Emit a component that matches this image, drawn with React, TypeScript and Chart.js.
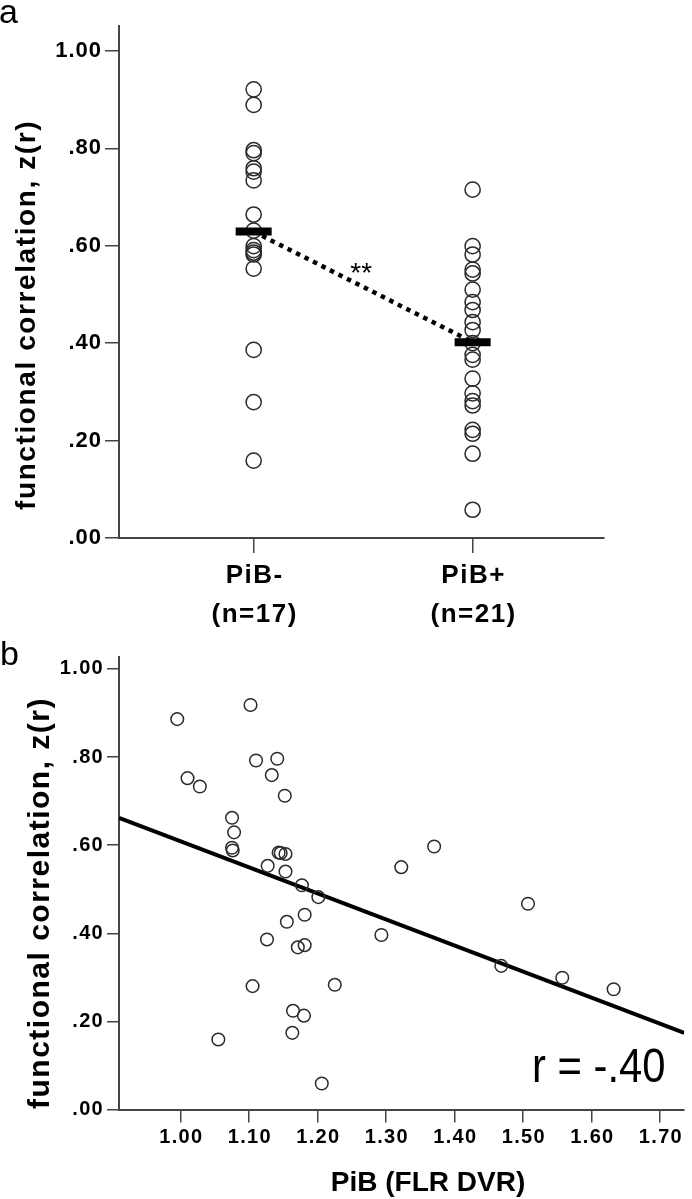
import React, { useEffect, useRef } from 'react';
import { Chart, registerables } from 'chart.js';

Chart.register(...registerables);

const FONT = '"Liberation Sans", Arial, Helvetica, sans-serif';

// ---------- Panel a ----------
const groupLabels = ['PiB-', 'PiB+'];
const groupCounts = [17, 21];
const groupPos = [1, 2];
const pibNegZ = [0.921, 0.889, 0.796, 0.79, 0.759, 0.752, 0.734, 0.664, 0.631, 0.599, 0.591, 0.586, 0.582, 0.553, 0.386, 0.279, 0.159];
const pibPosZ = [0.715, 0.599, 0.582, 0.551, 0.543, 0.51, 0.484, 0.468, 0.443, 0.427, 0.4, 0.376, 0.366, 0.327, 0.297, 0.281, 0.272, 0.222, 0.214, 0.173, 0.058];
const groupMeans = [0.629, 0.402];
const sigLabel = '**';

const yTickValues = [0, 0.2, 0.4, 0.6, 0.8, 1.0];
const yTickLabels = ['.00', '.20', '.40', '.60', '.80', '1.00'];
const yTitle = 'functional correlation, z(r)';

// ---------- Panel b ----------
const pibDvr = [0.995, 1.102, 1.01, 1.028, 1.11, 1.141, 1.133, 1.152, 1.075, 1.078, 1.075, 1.076, 1.143, 1.146, 1.153, 1.127, 1.153, 1.177, 1.201, 1.181, 1.155, 1.126, 1.171, 1.181, 1.37, 1.322, 1.293, 1.468, 1.507, 1.105, 1.225, 1.164, 1.18, 1.163, 1.055, 1.206, 1.557, 1.632];
const fcZ = [0.886, 0.918, 0.752, 0.733, 0.792, 0.796, 0.759, 0.712, 0.662, 0.629, 0.594, 0.588, 0.583, 0.582, 0.58, 0.553, 0.54, 0.509, 0.482, 0.442, 0.426, 0.386, 0.368, 0.373, 0.597, 0.55, 0.396, 0.326, 0.467, 0.28, 0.283, 0.224, 0.213, 0.174, 0.159, 0.059, 0.299, 0.273];
const fitX = [0.91, 1.735];
const fitY = [0.662, 0.174];
const xTickValues = [1.0, 1.1, 1.2, 1.3, 1.4, 1.5, 1.6, 1.7];
const xTickLabels = ['1.00', '1.10', '1.20', '1.30', '1.40', '1.50', '1.60', '1.70'];
const xTitleB = 'PiB (FLR DVR)';
const rLabel = 'r = -.40';

const W = 692;
const H_A = 634;
const H_B = 565;
const AXIS = '#444';

type TOpts = { align?: CanvasTextAlign; baseline?: CanvasTextBaseline; ls?: number; rotate?: number; scaleX?: number; color?: string };
function drawText(ctx: CanvasRenderingContext2D, text: string, x: number, y: number, font: string, o: TOpts = {}) {
  ctx.save();
  ctx.font = font;
  (ctx as any).letterSpacing = (o.ls || 0) + 'px';
  ctx.fillStyle = o.color || '#000';
  ctx.textAlign = o.align || 'left';
  ctx.textBaseline = o.baseline || 'alphabetic';
  ctx.translate(x, y);
  if (o.rotate) ctx.rotate(o.rotate);
  if (o.scaleX) ctx.scale(o.scaleX, 1);
  ctx.fillText(text, 0, 0);
  ctx.restore();
}

const gridOpts = (len: number) => ({ display: true, drawOnChartArea: false, drawTicks: true, tickLength: len, color: AXIS, lineWidth: 1.5 });

export default function App() {
  const refA = useRef<HTMLCanvasElement>(null);
  const refB = useRef<HTMLCanvasElement>(null);

  useEffect(() => {
    const textA = {
      id: 'textA',
      afterDraw(chart: any) {
        const ctx = chart.ctx as CanvasRenderingContext2D;
        const xs = chart.scales.x;
        const ys = chart.scales.y;
        drawText(ctx, 'a', -1, 23, `34px ${FONT}`);
        drawText(ctx, yTitle, 35, 510, `bold 28px ${FONT}`, { rotate: -Math.PI / 2, ls: 1.6 });
        yTickValues.forEach((v, i) => {
          drawText(ctx, yTickLabels[i], 102, ys.getPixelForValue(v), `bold 22px ${FONT}`, { align: 'right', baseline: 'middle', ls: 1 });
        });
        groupPos.forEach((p, i) => {
          const px = xs.getPixelForValue(p) + 1;
          drawText(ctx, groupLabels[i], px, 583, `bold 26px ${FONT}`, { align: 'center', ls: 1.5 });
          drawText(ctx, `(n=${groupCounts[i]})`, px, 622, `bold 26px ${FONT}`, { align: 'center', ls: 1.5 });
        });
        const midX = xs.getPixelForValue((groupPos[0] + groupPos[1]) / 2);
        const midY = ys.getPixelForValue((groupMeans[0] + groupMeans[1]) / 2);
        drawText(ctx, sigLabel, midX - 2, midY - 4.5, `28px ${FONT}`, { align: 'center' });
      },
    };

    const chartA = new Chart(refA.current!, {
      type: 'scatter',
      data: {
        datasets: [
          {
            type: 'line',
            data: groupPos.map((x, i) => ({ x, y: groupMeans[i] })),
            borderColor: '#000',
            borderWidth: 4.5,
            borderDash: [4.5, 5],
            pointRadius: 0,
            fill: false,
            order: 3,
          } as any,
          {
            data: pibNegZ.map((y) => ({ x: groupPos[0], y })),
            pointRadius: 7.6,
            pointBorderWidth: 1.5,
            borderColor: '#2a2a2a',
            pointBorderColor: '#2a2a2a',
            backgroundColor: 'rgba(0,0,0,0)',
            pointBackgroundColor: 'rgba(0,0,0,0)',
            order: 2,
          },
          {
            data: pibPosZ.map((y) => ({ x: groupPos[1], y })),
            pointRadius: 7.6,
            pointBorderWidth: 1.5,
            borderColor: '#2a2a2a',
            pointBorderColor: '#2a2a2a',
            backgroundColor: 'rgba(0,0,0,0)',
            pointBackgroundColor: 'rgba(0,0,0,0)',
            order: 2,
          },
          {
            data: groupPos.map((x, i) => ({ x, y: groupMeans[i] })),
            pointStyle: 'line',
            pointRadius: 18,
            pointBorderWidth: 8,
            borderColor: '#000',
            pointBorderColor: '#000',
            order: 1,
          },
        ],
      },
      options: {
        responsive: false,
        maintainAspectRatio: false,
        animation: false,
        devicePixelRatio: 1,
        events: [],
        layout: { padding: { left: 0, right: 88, top: 3, bottom: 0 } },
        plugins: { legend: { display: false }, tooltip: { enabled: false } },
        scales: {
          x: {
            type: 'linear',
            min: 0.385,
            max: 2.6,
            afterBuildTicks: (s: any) => { s.ticks = groupPos.map((v) => ({ value: v })); },
            afterFit: (s: any) => { s.height = 96; },
            ticks: { display: false },
            grid: gridOpts(15),
            border: { display: true, color: AXIS, width: 2 },
          },
          y: {
            type: 'linear',
            min: 0,
            max: 1.051,
            afterBuildTicks: (s: any) => { s.ticks = yTickValues.map((v) => ({ value: v })); },
            afterFit: (s: any) => { s.width = 119; },
            ticks: { display: false },
            grid: gridOpts(14),
            border: { display: true, color: AXIS, width: 2 },
          },
        },
      } as any,
      plugins: [textA],
    });

    const textB = {
      id: 'textB',
      afterDraw(chart: any) {
        const ctx = chart.ctx as CanvasRenderingContext2D;
        const xs = chart.scales.x;
        const ys = chart.scales.y;
        drawText(ctx, 'b', 0, 31, `34px ${FONT}`);
        drawText(ctx, yTitle, 49, 475, `bold 30px ${FONT}`, { rotate: -Math.PI / 2, ls: 1.5 });
        yTickValues.forEach((v, i) => {
          drawText(ctx, yTickLabels[i], 104, ys.getPixelForValue(v), `bold 20px ${FONT}`, { align: 'right', baseline: 'middle', ls: 1.3 });
        });
        xTickValues.forEach((v, i) => {
          drawText(ctx, xTickLabels[i], xs.getPixelForValue(v) + 0.7, 509, `bold 20px ${FONT}`, { align: 'center', ls: 1.3 });
        });
        drawText(ctx, xTitleB, 428, 557, `bold 28px ${FONT}`, { align: 'center' });
        drawText(ctx, rLabel, 532, 448, `48px ${FONT}`, { scaleX: 0.87 });
      },
    };

    const chartB = new Chart(refB.current!, {
      type: 'scatter',
      data: {
        datasets: [
          {
            type: 'line',
            data: fitX.map((x, i) => ({ x, y: fitY[i] })),
            borderColor: '#000',
            borderWidth: 4,
            pointRadius: 0,
            fill: false,
            order: 2,
          } as any,
          {
            data: pibDvr.map((x, i) => ({ x, y: fcZ[i] })),
            pointRadius: 6.3,
            pointBorderWidth: 1.5,
            borderColor: '#2a2a2a',
            pointBorderColor: '#2a2a2a',
            backgroundColor: 'rgba(0,0,0,0)',
            pointBackgroundColor: 'rgba(0,0,0,0)',
            order: 1,
          },
        ],
      },
      options: {
        responsive: false,
        maintainAspectRatio: false,
        animation: false,
        devicePixelRatio: 1,
        events: [],
        layout: { padding: { left: 0, right: 0, top: 23, bottom: 0 } },
        plugins: { legend: { display: false }, tooltip: { enabled: false } },
        scales: {
          x: {
            type: 'linear',
            min: 0.91,
            max: 1.735,
            afterBuildTicks: (s: any) => { s.ticks = xTickValues.map((v) => ({ value: v })); },
            afterFit: (s: any) => { s.height = 89.5; },
            ticks: { display: false },
            grid: gridOpts(13),
            border: { display: true, color: AXIS, width: 2 },
          },
          y: {
            type: 'linear',
            min: 0,
            max: 1.027,
            afterBuildTicks: (s: any) => { s.ticks = yTickValues.map((v) => ({ value: v })); },
            afterFit: (s: any) => { s.width = 119; },
            ticks: { display: false },
            grid: gridOpts(12),
            border: { display: true, color: AXIS, width: 2 },
          },
        },
      } as any,
      plugins: [textB],
    });

    return () => {
      chartA.destroy();
      chartB.destroy();
    };
  }, []);

  return (
    <div style={{ position: 'absolute', left: 0, top: 0, width: W, height: H_A + H_B, background: '#fff', overflow: 'hidden' }}>
      <canvas ref={refA} width={W} height={H_A} style={{ position: 'absolute', left: 0, top: 0 }} />
      <canvas ref={refB} width={W} height={H_B} style={{ position: 'absolute', left: 0, top: H_A }} />
    </div>
  );
}
